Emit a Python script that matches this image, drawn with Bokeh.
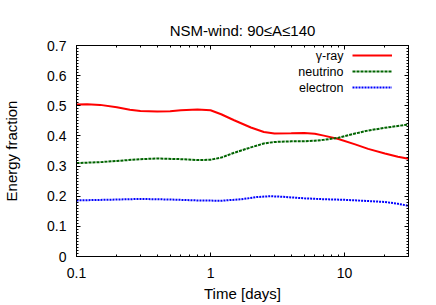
from bokeh.plotting import figure
from bokeh.models import (FixedTicker, LinearAxis, LogAxis, Label, Legend, LegendItem, Range1d)
from bokeh.embed import file_html
from bokeh.resources import INLINE

# ---- data ----
gamma_t = [0.1, 0.12, 0.15, 0.2, 0.25, 0.3, 0.4, 0.5, 0.6, 0.8, 1.0, 1.2, 1.5, 2.0, 2.5, 3.0,
           4.0, 5.0, 6.0, 7.0, 9.0, 12, 15, 20, 25, 30]
gamma_f = [0.504, 0.505, 0.503, 0.495, 0.487, 0.483, 0.481, 0.482, 0.485, 0.488, 0.485, 0.472,
           0.452, 0.428, 0.413, 0.408, 0.409, 0.410, 0.407, 0.401, 0.390, 0.372, 0.357, 0.342,
           0.331, 0.324]

neutrino_t = [0.1, 0.15, 0.2, 0.3, 0.4, 0.6, 0.8, 1.0, 1.2, 1.5, 2.0, 2.5, 3.0, 4.0, 5.0,
              6.0, 7.0, 9.0, 12, 15, 20, 30]
neutrino_f = [0.310, 0.313, 0.317, 0.323, 0.325, 0.323, 0.320, 0.321, 0.328, 0.344, 0.362,
              0.375, 0.380, 0.382, 0.382, 0.384, 0.387, 0.394, 0.408, 0.418, 0.427, 0.438]

electron_t = [0.1, 0.2, 0.3, 0.5, 0.8, 1.2, 1.7, 2.2, 2.8, 3.5, 5.0, 7.0, 10, 15, 20, 25, 30]
electron_f = [0.186, 0.189, 0.191, 0.189, 0.186, 0.185, 0.190, 0.197, 0.200, 0.198, 0.193,
              0.190, 0.188, 0.184, 0.181, 0.175, 0.168]

series_names = ["γ-ray", "neutrino", "electron"]
x_ticks = [0.1, 1, 10]
x_minor = [0.2, 0.3, 0.4, 0.5, 0.6, 0.7, 0.8, 0.9, 2, 3, 4, 5, 6, 7, 8, 9, 20, 30]
y_ticks = [0, 0.1, 0.2, 0.3, 0.4, 0.5, 0.6, 0.7]
y_minor = [round(i * 0.01, 2) for i in range(71)]

FONT = "Liberation Sans"
TICK_FS = "14px"
LAB_FS = "15px"

p = figure(width=436, height=305, x_axis_type="log",
           x_range=Range1d(0.1, 30), y_range=Range1d(0, 0.7),
           output_backend="svg", toolbar_location=None,
           min_border_left=74, min_border_right=28, min_border_top=45, min_border_bottom=49)

p.title.text = "NSM-wind: 90≤A≤140"
p.title.align = "center"
p.title.text_font = FONT
p.title.text_font_size = "15px"
p.title.text_font_style = "normal"
p.title.text_color = "black"
p.title.standoff = 14

p.grid.visible = False
p.outline_line_color = "black"
p.outline_line_width = 1
p.background_fill_color = "white"

def style_axis(ax, show_labels=True):
    ax.major_tick_in = 4
    ax.major_tick_out = 0
    ax.minor_tick_in = 2
    ax.minor_tick_out = 0
    ax.axis_line_color = "black"
    ax.major_tick_line_color = "black"
    ax.minor_tick_line_color = "black"
    ax.major_label_text_font = FONT
    ax.major_label_text_font_size = TICK_FS
    ax.major_label_text_color = "black" if show_labels else None
    ax.axis_label_text_font = FONT
    ax.axis_label_text_font_size = LAB_FS
    ax.axis_label_text_font_style = "normal"
    ax.axis_label_text_color = "black"

xt = FixedTicker(ticks=x_ticks, minor_ticks=x_minor)
yt = FixedTicker(ticks=y_ticks, minor_ticks=y_minor)

xa = p.xaxis[0]
xa.ticker = xt
xa.axis_label = "Time [days]"
xa.major_label_overrides = {0.1: "0.1", 1: "1", 10: "10"}
style_axis(xa)
xa.major_label_standoff = 11
xa.axis_label_standoff = 4

ya = p.yaxis[0]
ya.ticker = yt
ya.axis_label = "Energy fraction"
ya.major_label_overrides = {0: "0", 0.1: "0.1", 0.2: "0.2", 0.3: "0.3", 0.4: "0.4",
                            0.5: "0.5", 0.6: "0.6", 0.7: "0.7"}
style_axis(ya)
ya.major_label_standoff = 10
ya.axis_label_standoff = 24

ra = LinearAxis(ticker=yt)
style_axis(ra, show_labels=False)
ra.major_label_text_font_size = "0px"
ra.major_label_standoff = 0
p.add_layout(ra, "right")

ta = LogAxis(ticker=xt)
style_axis(ta, show_labels=False)
ta.major_label_text_font_size = "0px"
ta.major_label_standoff = 0
p.add_layout(ta, "above")

r1 = p.line(gamma_t, gamma_f, line_color="#ff0000", line_width=2)
r2 = p.line(neutrino_t, neutrino_f, line_color="#006400", line_width=2, line_dash="3 1")
r3 = p.line(electron_t, electron_f, line_color="#0000ff", line_width=2, line_dash="2 1")

# gnuplot-style key: text right-aligned, sample line to the right
leg = Legend(items=[LegendItem(label=" ", renderers=[r]) for r in (r1, r2, r3)],
             location=(276, 162), glyph_width=40, glyph_height=14, label_width=0,
             label_standoff=0, spacing=2, padding=0, margin=0,
             background_fill_alpha=0, border_line_alpha=0,
             label_text_font_size="1px")
p.add_layout(leg, "center")

for name, yy in zip(series_names, [200.5, 184.5, 168.5]):
    p.add_layout(Label(x=267, y=yy, x_units="screen", y_units="screen", text=name,
                       text_align="right", text_baseline="middle",
                       text_font=FONT, text_font_size="12.5px", text_color="black"))

open("out.html", "w").write(file_html(p, INLINE))
